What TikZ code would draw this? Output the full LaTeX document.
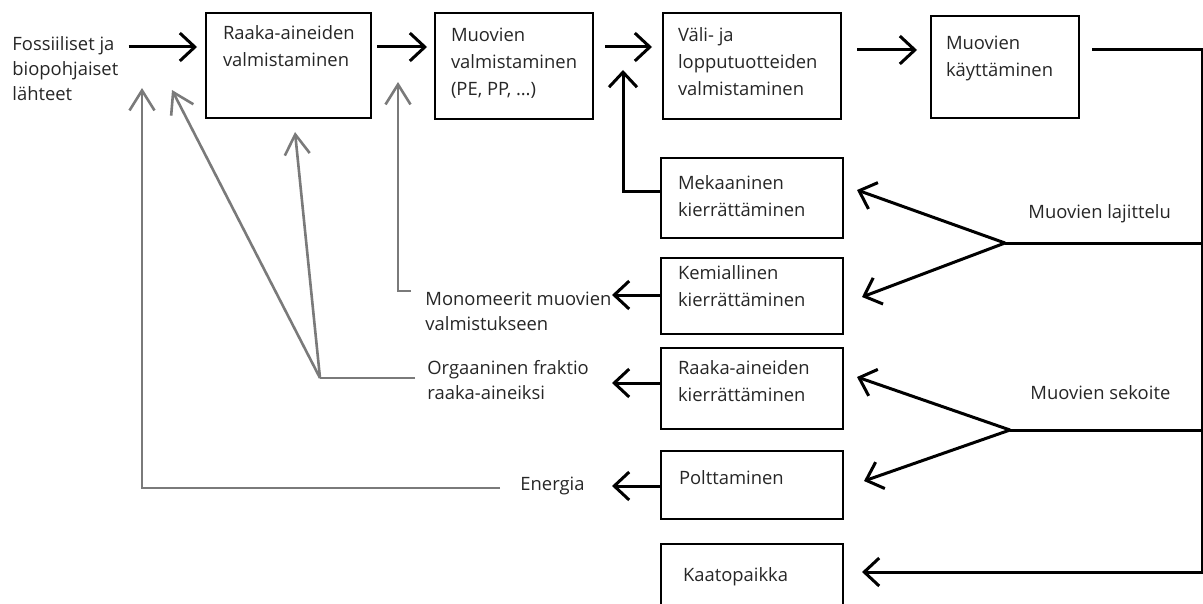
\documentclass[tikz,border=0pt]{standalone}
\usepackage{fontspec}
\setmainfont{Open Sans}
\usetikzlibrary{arrows.meta}
\tikzset{
  box/.style={draw,line width=1pt,anchor=north west,text=black!85,font=\fontsize{9.2}{13.5}\selectfont},
  lbl/.style={anchor=north west,align=left,inner sep=0pt,text=black!85,font=\fontsize{9.2}{12.5}\selectfont},
  wire/.style={line width=1.5pt},
  flow/.style={line width=1.5pt,-{Straight Barb[length=7.5pt,width=14pt]}},
  backwire/.style={draw=black!52,line width=1.3pt},
  back/.style={backwire,-{Straight Barb[length=10pt,width=12.5pt]}}
}
\begin{document}
\begin{tikzpicture}[x=0.5pt,y=-0.5pt]
    \useasboundingbox(0,0)rectangle(1203,604);
    \clip(0,0)rectangle(1203,604);
    % main chain
    \node[lbl](src)at(12,36){Fossiiliset ja\\biopohjaiset\\lähteet};
    \node[box,inner xsep=8.5pt,inner ysep=6.5pt](rawmat)at(205,12){\parbox[t][39.5pt][t]{65.5pt}{\mbox{Raaka-aineiden}\\valmistaminen}};
    \node[box,inner xsep=8pt,inner ysep=7.5pt](polymer)at(434,12){\parbox[t][38pt][t]{63pt}{Muovien\\valmistaminen\\(PE, PP, …)}};
    \node[box,inner xsep=7.5pt,inner ysep=7.5pt](products)at(662,12){\parbox[t][38pt][t]{74pt}{Väli- ja\\lopputuotteiden\\valmistaminen}};
    \node[box,inner xsep=7.5pt,inner ysep=10pt](use)at(930,15){\parbox[t][31pt][t]{59pt}{Muovien\\käyttäminen}};
    % end of life
    \node[box,inner xsep=8.5pt,inner ysep=9pt](mech)at(660,157){\parbox[t][22pt][t]{74pt}{Mekaaninen\\kierrättäminen}};
    \node[box,inner xsep=8.5pt,inner ysep=4pt](chem)at(660,257){\parbox[t][30pt][t]{74pt}{Kemiallinen\\kierrättäminen}};
    \node[box,inner xsep=8.5pt,inner ysep=6.5pt](feed)at(660,347){\parbox[t][27.5pt][t]{74pt}{\mbox{Raaka-aineiden}\\kierrättäminen}};
    \node[box,inner xsep=9pt,inner ysep=10pt](burn)at(660,450){\parbox[t][14pt][t]{73pt}{Polttaminen}};
    \node[box,inner xsep=11pt,inner ysep=12pt](landfill)at(660,543){\parbox[t][26pt][t]{69pt}{Kaatopaikka}};
    \node[lbl,anchor=base west](sorted)at(1028,219){Muovien lajittelu};
    \node[lbl,anchor=base west](mixed)at(1030,399){Muovien sekoite};
    \node[lbl](mono)at(425,292){Monomeerit muovien\\valmistukseen};
    \node[lbl](organic)at(427,360){Orgaaninen fraktio\\raaka-aineiksi};
    \node[lbl,anchor=base west](energy)at(520,490){Energia};
    % arrows of the chain
    \path(rawmat.north west)--+(0,35)coordinate(rawmat-in);
    \path(polymer.north west)--+(0,35)coordinate(polymer-in);
    \path(products.north west)--+(0,35)coordinate(products-in);
    \path(use.north west)--+(0,35)coordinate(use-in);
    \path(use.north east)--+(0,35)coordinate(use-out);
    \draw[flow,shorten <=5pt,shorten >=4pt](src.east|-rawmat-in)--(rawmat-in);
    \draw[flow,shorten <=2.5pt,shorten >=3.5pt](rawmat.east|-rawmat-in)--(polymer-in);
    \draw[flow,shorten <=5.5pt,shorten >=5pt](polymer.east|-polymer-in)--(products-in);
    \draw[flow,shorten <=7.5pt,shorten >=6.5pt](products.east|-use-in)--(use-in);
    % sorting
    \path(use-out)--+(122,0)coordinate(rail-top);
    \coordinate(sort-fork)at(1005,243);
    \coordinate(mix-fork)at(1010,430);
    \path(mech.north east)--+(13,33)coordinate(mech-in);
    \path(chem.north east)--+(18,40)coordinate(chem-in);
    \path(feed.north east)--+(13,30)coordinate(feed-in);
    \path(burn.north east)--+(20,31)coordinate(burn-in);
    \path(landfill.north east)--+(18,29)coordinate(landfill-in);
    \draw[flow,shorten <=6pt](use-out)--(rail-top)|-(landfill-in);
    \draw[wire](rail-top|-sort-fork)--(sort-fork);
    \draw[flow](sort-fork)--(mech-in);
    \draw[flow](sort-fork)--(chem-in);
    \draw[wire](rail-top|-mix-fork)--(mix-fork);
    \draw[flow](mix-fork)--(feed-in);
    \draw[flow](mix-fork)--(burn-in);
    % outputs of recycling
    \path(mech.north west)--+(0,35)coordinate(mech-out);
    \path(products.north west)--+(-39,58)coordinate(mech-back);
    \draw[flow](mech-out)-|(mech-back);
    \path(chem.north west)--+(0,38)coordinate(chem-out);
    \path(chem-out)--+(-48,0)coordinate(chem-tip);
    \draw[flow](chem-out)--(chem-tip);
    \path(feed.north west)--+(0,36)coordinate(feed-out);
    \path(feed-out)--+(-48,0)coordinate(feed-tip);
    \draw[flow](feed-out)--(feed-tip);
    \path(burn.north west)--+(0,36)coordinate(burn-out);
    \path(burn-out)--+(-48,0)coordinate(burn-tip);
    \draw[flow](burn-out)--(burn-tip);
    % back to the start
    \coordinate(mono-tick)at(411,291);
    \path(rawmat.north east)--+(26,70)coordinate(mono-tip);
    \draw[back](mono-tick)-|(mono-tip);
    \coordinate(organic-start)at(415,378);
    \coordinate(organic-fork)at(320,378);
    \path(rawmat.south west)--+(90,13)coordinate(organic-tip);
    \coordinate(source-tip)at(172,90);
    \draw[backwire](organic-start)--(organic-fork);
    \draw[back](organic-fork)--(organic-tip);
    \draw[back](organic-fork)--(source-tip);
    \coordinate(energy-start)at(500,488);
    \coordinate(energy-tip)at(142,88);
    \draw[back](energy-start)-|(energy-tip);
\end{tikzpicture}
\end{document}
